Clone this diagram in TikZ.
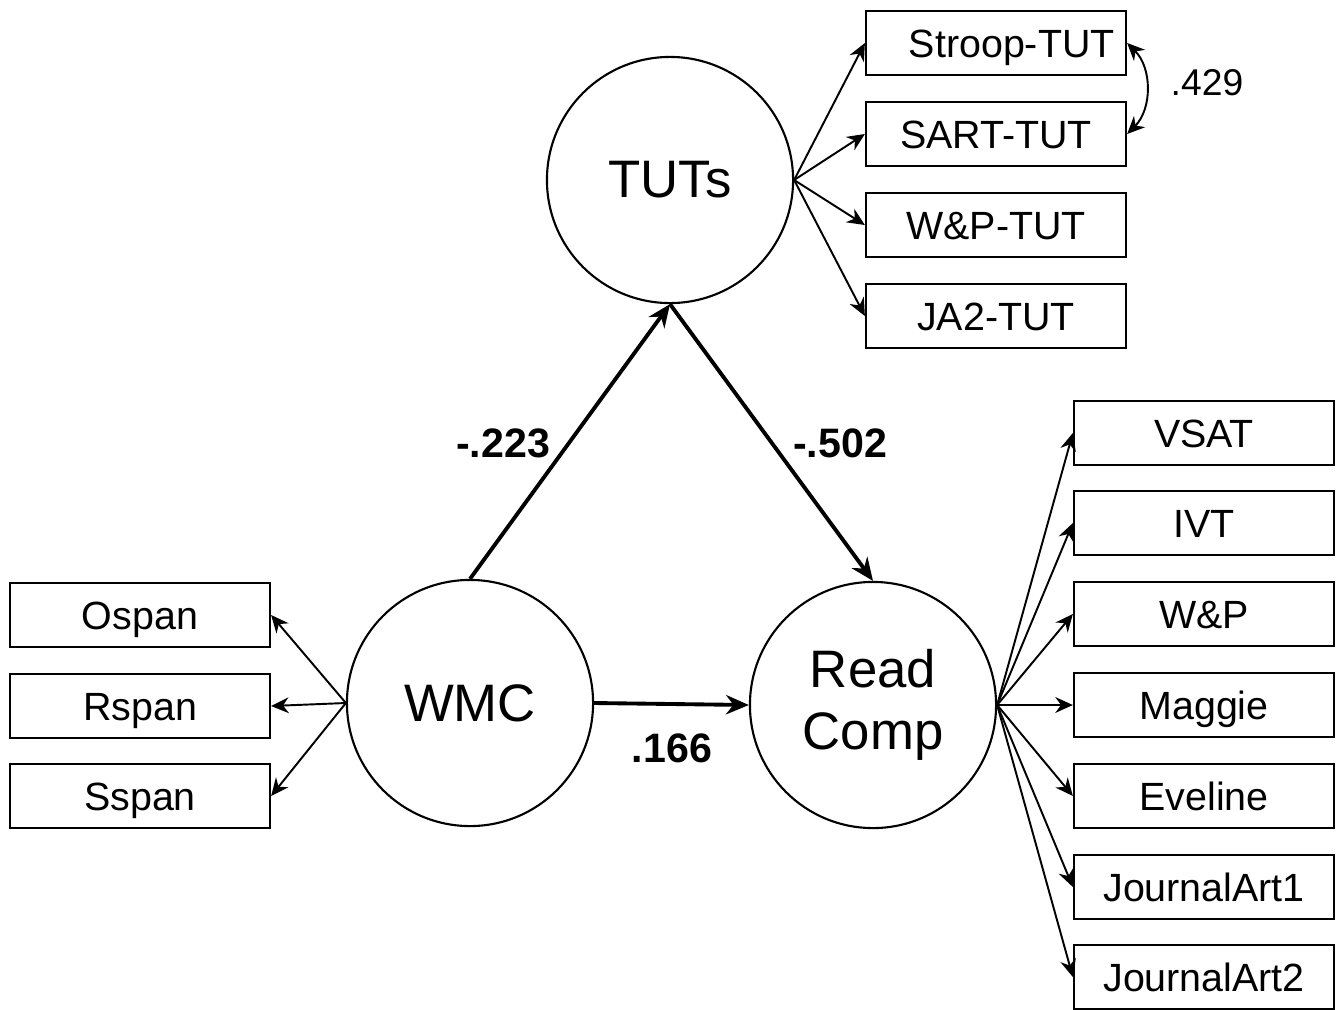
\documentclass[tikz,border=0pt]{standalone}
\usepackage{fontspec}
\setmainfont{Liberation Sans}
\usetikzlibrary{arrows.meta}
\begin{document}
\begin{tikzpicture}[x=0.01cm,y=-0.01cm,
    lat/.style={draw,circle,line width=0.6pt,minimum size=2.46cm,inner sep=0pt,
      align=center,font=\fontsize{15}{17.6}\selectfont},
    obs/.style={draw,rectangle,line width=0.6pt,minimum width=2.6cm,minimum height=0.64cm,
      inner sep=0pt,text height=8pt,text depth=0pt,font=\fontsize{11.2}{12}\selectfont},
    load/.style={-{Stealth[length=5pt,width=4.5pt]},line width=0.55pt},
    reg/.style={-{Stealth[length=6.5pt,width=5.5pt]},line width=1.1pt},
    coef/.style={font=\bfseries\fontsize{11.7}{13}\selectfont}]
  \useasboundingbox (0,0) rectangle (1340,1009);
  % latent variables
  \node[lat] at (670,180) (tuts) {TUTs};
  \node[lat] at (470,703) (wmc) {WMC};
  \node[lat] at (873,705) (rc) {Read\\Comp};
  % TUT indicators
  \node[obs] at (996,43) (stroop) {\hspace{0.8em}Stroop-TUT};
  \node[obs] at (996,134) (sart) {SART-TUT};
  \node[obs] at (996,225) (wptut) {W\&P-TUT};
  \node[obs] at (996,316) (jatut) {JA2-TUT};
  % WMC indicators
  \node[obs] at (140,615) (ospan) {Ospan};
  \node[obs] at (140,706) (rspan) {Rspan};
  \node[obs] at (140,796) (sspan) {Sspan};
  % reading comprehension indicators
  \node[obs] at (1204,433) (vsat) {VSAT};
  \node[obs] at (1204,523) (ivt) {IVT};
  \node[obs] at (1204,614) (wp) {W\&P};
  \node[obs] at (1204,705) (maggie) {Maggie};
  \node[obs] at (1204,796) (eveline) {Eveline};
  \node[obs] at (1204,887) (ja1) {JournalArt1};
  \node[obs] at (1204,977) (ja2) {JournalArt2};
  % loadings
  \path[load] (tuts.east) edge (stroop.west);
  \path[load] (tuts.east) edge (sart.west);
  \path[load] (tuts.east) edge (wptut.west);
  \path[load] (tuts.east) edge (jatut.west);
  \path[load] (wmc.west) edge (ospan.east);
  \path[load] (wmc.west) edge (rspan.east);
  \path[load] (wmc.west) edge (sspan.east);
  \path[load] (rc.east) edge (vsat.west);
  \path[load] (rc.east) edge (ivt.west);
  \path[load] (rc.east) edge (wp.west);
  \path[load] (rc.east) edge (maggie.west);
  \path[load] (rc.east) edge (eveline.west);
  \path[load] (rc.east) edge (ja1.west);
  \path[load] (rc.east) edge (ja2.west);
  % structural paths
  \path[reg] (wmc.north) edge (tuts.south);
  \path[reg] (tuts.south) edge (rc.north);
  \path[reg] (wmc.east) edge (rc.west);
  \node[coef] at (503,443) (b1) {-.223};
  \node[coef] at (840,443) (b2) {-.502};
  \node[coef] at (672,748) (b3) {.166};
  % residual correlation
  \path[load,{Stealth[length=5pt,width=4.5pt]}-{Stealth[length=5pt,width=4.5pt]}]
    (stroop.east) edge[bend left=45] (sart.east);
  \node[font=\fontsize{10.6}{12}\selectfont] at (1207,83) (r1) {.429};
\end{tikzpicture}
\end{document}
